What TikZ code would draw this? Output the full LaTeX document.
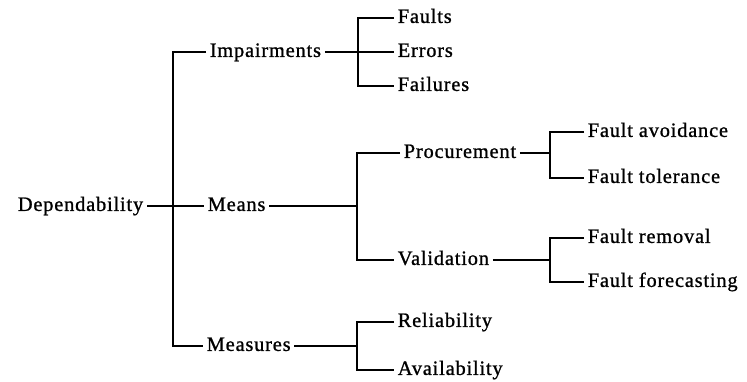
\documentclass[tikz,border=0pt]{standalone}
\usepackage{fontspec}
\setmainfont{Liberation Serif}[LetterSpace=4, FakeBold=1]

\begin{document}
\begin{tikzpicture}[x=0.025cm, y=-0.025cm,
  every node/.style={font=\fontsize{14.5}{16}\selectfont, inner sep=2.5pt,
                     text height=10pt, text depth=3pt},
  leaf/.style={anchor=west},
  branch/.style={line width=1.3pt}]

\useasboundingbox (0,0) rectangle (747,381);

% --- Radice e primo livello ---
\node[anchor=east] (dep) at (147,206) {Dependability};
\coordinate (b0) at (173,206);
\node[leaf] (imp) at (206,52) {Impairments};
\node[leaf] (mns) at (204,206) {Means};
\node[leaf] (mea) at (203,346) {Measures};
\draw[branch] (dep) -- (mns);
\draw[branch] (imp) -| (b0) |- (mea);

% --- Impairments ---
\coordinate (b1) at (358,52);
\foreach \n/\y/\t in {flt/18/Faults, err/52/Errors, fai/86/Failures}{
  \node[leaf] (\n) at (394,\y) {\t};
}
\draw[branch] (imp) -- (err);
\draw[branch] (flt) -| (b1) |- (fai);

% --- Means ---
\coordinate (b2) at (357,206);
\node[leaf] (pro) at (400,153) {Procurement};
\node[leaf] (val) at (394,260) {Validation};
\draw[branch] (mns) -- (b2);
\draw[branch] (pro) -| (b2) |- (val);

% Procurement
\coordinate (b3) at (550,153);
\foreach \n/\y/\t in {fav/132/Fault avoidance, fto/178/Fault tolerance}{
  \node[leaf] (\n) at (584,\y) {\t};
}
\draw[branch] (pro) -- (b3);
\draw[branch] (fav) -| (b3) |- (fto);

% Validation
\coordinate (b4) at (550,260);
\foreach \n/\y/\t in {frm/238/Fault removal, ffc/282/Fault forecasting}{
  \node[leaf] (\n) at (584,\y) {\t};
}
\draw[branch] (val) -- (b4);
\draw[branch] (frm) -| (b4) |- (ffc);

% --- Measures ---
\coordinate (b5) at (357,346);
\foreach \n/\y/\t in {rel/322/Reliability, ava/370/Availability}{
  \node[leaf] (\n) at (394,\y) {\t};
}
\draw[branch] (mea) -- (b5);
\draw[branch] (rel) -| (b5) |- (ava);

\end{tikzpicture}
\end{document}
